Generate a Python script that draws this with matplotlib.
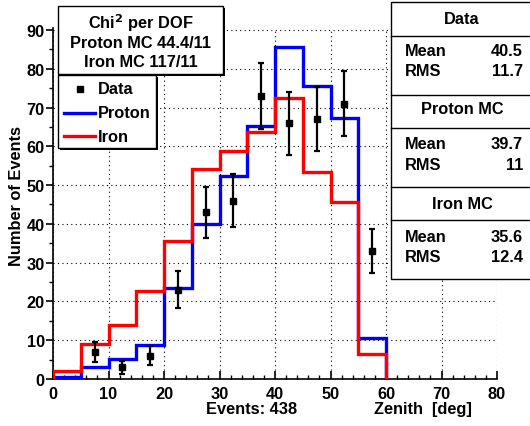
import numpy as np
import matplotlib
matplotlib.use("Agg")
import matplotlib.pyplot as plt
from matplotlib.patches import Rectangle
from matplotlib.lines import Line2D
from matplotlib.ticker import MultipleLocator

plt.rcParams['font.family'] = ['Liberation Sans', 'DejaVu Sans']
plt.rcParams['font.weight'] = 'bold'

# ---- data ----
bin_edges = [0, 5, 10, 15, 20, 25, 30, 35, 40, 45, 50, 55, 60]
data_counts = [0, 7, 3, 6, 23, 43, 46, 73, 66, 67, 71, 33]
proton_mc = [0.5, 3.2, 5.1, 8.7, 23.4, 40.0, 52.4, 65.3, 85.5, 75.5, 67.3, 10.6]
iron_mc = [2.1, 8.9, 13.8, 22.8, 35.7, 54.1, 58.7, 63.6, 72.5, 53.3, 45.7, 6.5]
chi2_lines = ["Chi$^{2}$ per DOF", "Proton MC 44.4/11", "Iron MC 117/11"]
stat_names = ["Data", "Proton MC", "Iron MC"]
stat_mean = ["40.5", "39.7", "35.6"]
stat_rms = ["11.7", "11", "12.4"]
n_events = 438

FS = 11.8

W, H = 530, 427
fig = plt.figure(figsize=(W / 100, H / 100), dpi=100)
fig.patch.set_facecolor('white')

def fx(x):
    return x / W

def fy(y):
    return 1 - y / H

ax = fig.add_axes([fx(53), fy(380), (497 - 53) / W, (380 - 29) / H])
ax.set_xlim(0, 80)
ax.set_ylim(0, 90.5)

edges = np.array(bin_edges, dtype=float)
centers = 0.5 * (edges[:-1] + edges[1:])
d = np.array(data_counts, dtype=float)

ax.stairs(proton_mc, edges, baseline=0, color=(0, 0, 1), lw=2.4, zorder=3)
ax.stairs(iron_mc, edges, baseline=0, color=(1, 0, 0), lw=2.4, zorder=4)
mask = d > 0
ax.errorbar(centers[mask], d[mask], yerr=np.sqrt(d[mask]), fmt='s', color='black',
            ms=4.5, elinewidth=1.6, capsize=2.5, capthick=1.6, zorder=5)

ax.grid(True, which='major', color='black', linestyle=(0, (1, 3)), lw=0.8)
ax.set_axisbelow(True)
for s in ['top', 'right']:
    ax.spines[s].set_visible(False)
for s in ['left', 'bottom']:
    ax.spines[s].set_linewidth(1.2)

ax.xaxis.set_major_locator(MultipleLocator(10))
ax.xaxis.set_minor_locator(MultipleLocator(2))
ax.yaxis.set_major_locator(MultipleLocator(10))
ax.yaxis.set_minor_locator(MultipleLocator(5))
ax.tick_params(axis='x', which='major', direction='in', length=6, width=1.2, pad=5, labelsize=FS)
ax.tick_params(axis='x', which='minor', direction='in', length=3, width=1.0)
ax.tick_params(axis='y', which='major', direction='out', length=5, width=1.2, pad=1, labelsize=FS)
ax.tick_params(axis='y', which='minor', direction='out', length=3, width=1.0)
for lbl in ax.get_xticklabels() + ax.get_yticklabels():
    lbl.set_fontweight('bold')

fig.text(fx(17), fy(196), "Number of Events", rotation=90, ha='center', va='center',
         fontsize=FS, fontweight='bold')
fig.text(fx(206), fy(410), f"Events: {n_events}", ha='left', va='center', fontsize=FS, fontweight='bold')
fig.text(fx(374), fy(410), "Zenith  [deg]", ha='left', va='center', fontsize=FS, fontweight='bold')

def box(x0, y0, x1, y1, shadow=2):
    sh = Rectangle((fx(x0 + shadow), fy(y1 + shadow)), (x1 - x0) / W, (y1 - y0) / H,
                   transform=fig.transFigure, facecolor='black', edgecolor='black', lw=0, zorder=10)
    fig.add_artist(sh)
    r = Rectangle((fx(x0), fy(y1)), (x1 - x0) / W, (y1 - y0) / H,
                  transform=fig.transFigure, facecolor='white', edgecolor='black', lw=1.0, zorder=11)
    fig.add_artist(r)

# chi2 box
box(58, 7, 223, 75)
for i, t in enumerate(chi2_lines):
    fig.text(fx(141), fy(23 + 20 * i), t, ha='center', va='center', fontsize=FS,
             fontweight='bold', zorder=12)

# legend box
box(58, 76, 156, 149)
fig.add_artist(Line2D([fx(80)], [fy(90)], marker='s', color='black', ms=4.5,
                      transform=fig.transFigure, zorder=12))
fig.add_artist(Line2D([fx(64), fx(95)], [fy(114), fy(114)], color=(0, 0, 1), lw=2.4,
                      transform=fig.transFigure, zorder=12))
fig.add_artist(Line2D([fx(64), fx(95)], [fy(137), fy(137)], color=(1, 0, 0), lw=2.4,
                      transform=fig.transFigure, zorder=12))
for t, y in zip(["Data", "Proton", "Iron"], [90, 114, 137]):
    fig.text(fx(98), fy(y), t, ha='left', va='center', fontsize=FS, fontweight='bold', zorder=12)

# stat box
sr = Rectangle((fx(391), fy(280)), (W - 391 + 5) / W, (280 - 3) / H, transform=fig.transFigure,
               facecolor='white', edgecolor='black', lw=1.0, zorder=11)
fig.add_artist(sr)
for yy in [37, 96, 129, 188, 221]:
    fig.add_artist(Line2D([fx(391), fx(W)], [fy(yy), fy(yy)], color='black', lw=1.0,
                          transform=fig.transFigure, zorder=12))
header_y = [19, 110, 205]
mean_y = [52, 145, 238]
rms_y = [72, 165, 258]
for i in range(3):
    fig.text(fx(462), fy(header_y[i]), stat_names[i], ha='center', va='center', fontsize=FS,
             fontweight='bold', zorder=13)
    fig.text(fx(405), fy(mean_y[i]), "Mean", ha='left', va='center', fontsize=FS,
             fontweight='bold', zorder=13)
    fig.text(fx(405), fy(rms_y[i]), "RMS", ha='left', va='center', fontsize=FS,
             fontweight='bold', zorder=13)
    fig.text(fx(523), fy(mean_y[i]), stat_mean[i], ha='right', va='center', fontsize=FS,
             fontweight='bold', zorder=13)
    fig.text(fx(523), fy(rms_y[i]), stat_rms[i], ha='right', va='center', fontsize=FS,
             fontweight='bold', zorder=13)

fig.savefig("out.png", dpi=100)
